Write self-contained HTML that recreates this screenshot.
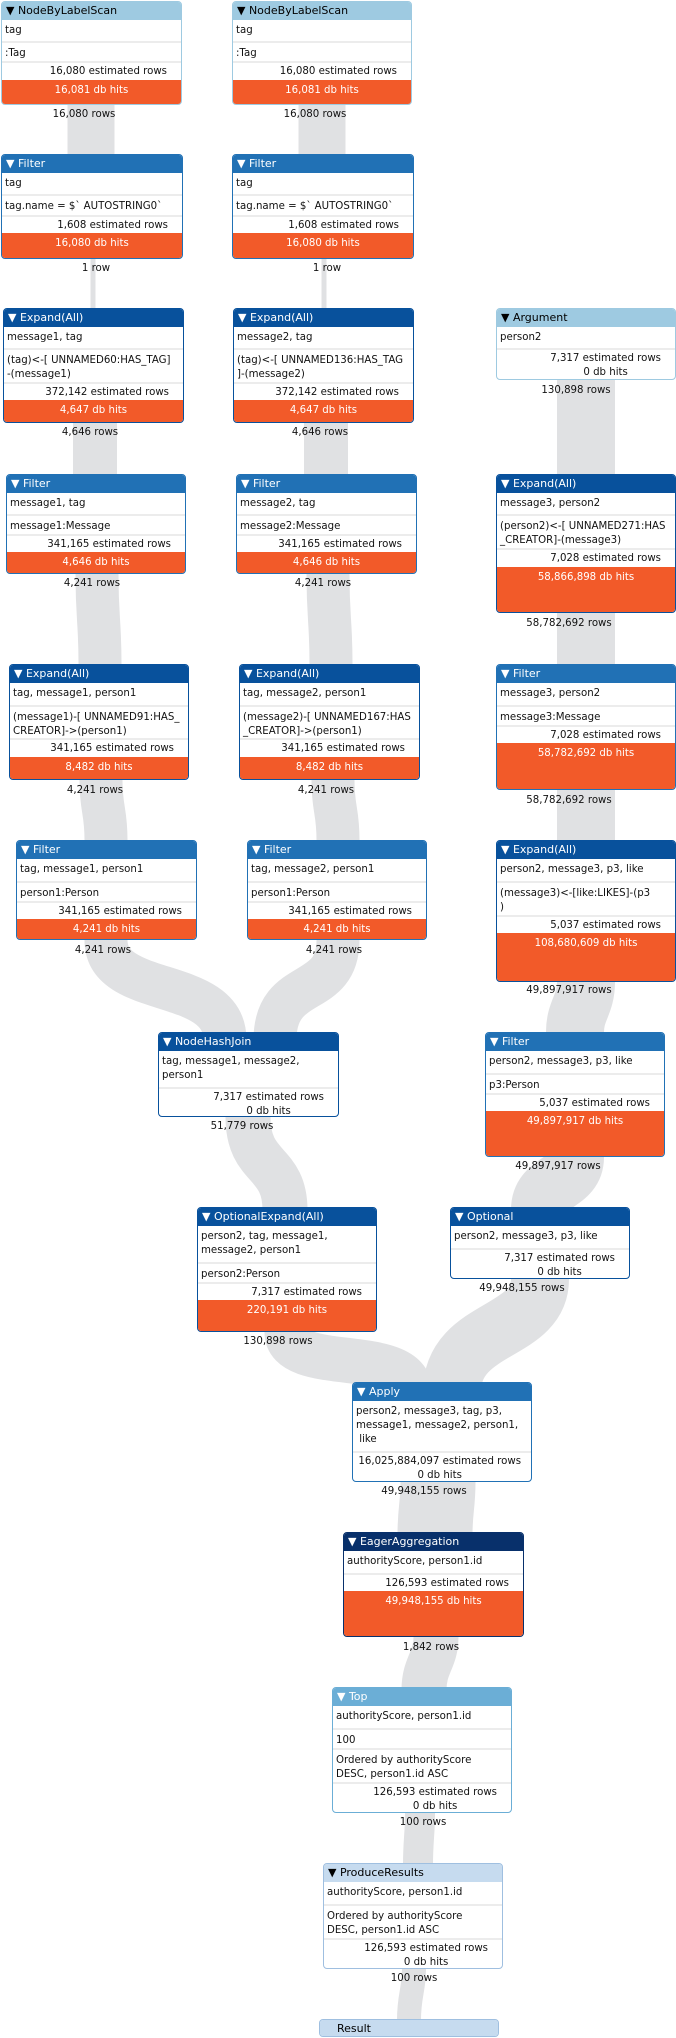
<!DOCTYPE html>
<html><head><meta charset="utf-8">
<style>
html,body{margin:0;padding:0;background:#fff}
body{width:676px;height:2038px;position:relative;overflow:hidden;font-family:"DejaVu Sans","Liberation Sans",sans-serif;color:#111}
.b{position:absolute;border:1px solid #2171b5;border-radius:4px;background:#fff;overflow:hidden;font-size:10.2px;box-sizing:border-box;width:180px}
.h{height:18px;line-height:18px;font-size:11px;padding-left:4px;color:#fff;background:#2171b5;white-space:nowrap}
.r{border-top:2px solid #ececec;padding:4px 3px 0;line-height:14px;box-sizing:border-box;white-space:nowrap;overflow:hidden}
.e{text-align:right;padding-right:14px;padding-top:2px}
.o{background:#f25a29;color:#fff;text-align:center;border-top:none;padding-top:4px}
.L{border-color:#9ecae1}.L .h{background:#9ecae1;color:#000}
.F{border-color:#2171b5}.F .h{background:#2171b5}
.X{border-color:#08519c}.X .h{background:#08519c}
.D{border-color:#08306b}.D .h{background:#08306b}
.T{border-color:#6baed6}.T .h{background:#6baed6}
.P{border-color:#9fbfe0}.P .h{background:#c6dbef;color:#000}
.lab{position:absolute;width:140px;text-align:center;font-size:10.2px;line-height:12px}
.c{display:inline-block;text-align:center}
svg{position:absolute;left:0;top:0}
</style></head><body>
<svg width="676" height="2038" fill="none" stroke="#e0e1e3">
<path d="M91 105V154" stroke-width="47"/>
<path d="M322 105V154" stroke-width="47"/>
<path d="M93 259V308" stroke-width="5"/>
<path d="M324 259V308" stroke-width="5"/>
<path d="M95 423V474" stroke-width="44"/>
<path d="M326 423V474" stroke-width="44"/>
<path d="M97 574C97 620 100 620 100 664" stroke-width="43"/>
<path d="M328 574C328 620 331 620 331 664" stroke-width="43"/>
<path d="M101 780C101 810 106 810 106 840" stroke-width="43"/>
<path d="M333 780C333 810 338 810 338 840" stroke-width="43"/>
<path d="M106 940C106 1000 225 975 225 1040" stroke-width="43"/>
<path d="M338 940C338 1000 275 975 275 1040" stroke-width="43"/>
<path d="M586 380V474" stroke-width="58"/>
<path d="M586 613V664" stroke-width="58"/>
<path d="M586 790V840" stroke-width="58"/>
<path d="M586 982C586 1005 575 1010 575 1032" stroke-width="58"/>
<path d="M575 1157C575 1185 540 1180 540 1210" stroke-width="58"/>
<path d="M248 1117C248 1170 285 1160 285 1210" stroke-width="45"/>
<path d="M287 1332C287 1375 410 1345 410 1392" stroke-width="45"/>
<path d="M540 1279C540 1335 452 1325 452 1392" stroke-width="58"/>
<path d="M438 1482C438 1505 435 1510 435 1535" stroke-width="75"/>
<path d="M436 1637C436 1660 424 1665 424 1690" stroke-width="45"/>
<path d="M420 1813C420 1835 418 1840 418 1865" stroke-width="30"/>
<path d="M414 1969C414 1990 409 1995 409 2020" stroke-width="24"/>
</svg>

<div class="b L" style="left:1px;top:1px;width:181px;height:104px"><div class="h">▼ NodeByLabelScan</div><div class="r" style="height:21px;border-top:none">tag</div><div class="r" style="height:20px">:Tag</div><div class="r e" style="height:19px">16,080 estimated rows</div><div class="r o" style="height:26px">16,081 db hits</div></div>
<div class="b L" style="left:232px;top:1px;width:180px;height:104px"><div class="h">▼ NodeByLabelScan</div><div class="r" style="height:21px;border-top:none">tag</div><div class="r" style="height:20px">:Tag</div><div class="r e" style="height:19px">16,080 estimated rows</div><div class="r o" style="height:26px">16,081 db hits</div></div>

<div class="b F" style="left:1px;top:154px;width:182px;height:105px"><div class="h">▼ Filter</div><div class="r" style="height:21px;border-top:none">tag</div><div class="r" style="height:21px">tag.name = $` AUTOSTRING0`</div><div class="r e" style="height:18px">1,608 estimated rows</div><div class="r o" style="height:27px">16,080 db hits</div></div>
<div class="b F" style="left:232px;top:154px;width:182px;height:105px"><div class="h">▼ Filter</div><div class="r" style="height:21px;border-top:none">tag</div><div class="r" style="height:21px">tag.name = $` AUTOSTRING0`</div><div class="r e" style="height:18px">1,608 estimated rows</div><div class="r o" style="height:27px">16,080 db hits</div></div>

<div class="b X" style="left:3px;top:308px;width:181px;height:115px"><div class="h">▼ Expand(All)</div><div class="r" style="height:21px;border-top:none">message1, tag</div><div class="r" style="height:34px">(tag)&lt;-[ UNNAMED60:HAS_TAG]<br>-(message1)</div><div class="r e" style="height:18px">372,142 estimated rows</div><div class="r o" style="height:24px">4,647 db hits</div></div>
<div class="b X" style="left:233px;top:308px;width:181px;height:115px"><div class="h">▼ Expand(All)</div><div class="r" style="height:21px;border-top:none">message2, tag</div><div class="r" style="height:34px">(tag)&lt;-[ UNNAMED136:HAS_TAG<br>]-(message2)</div><div class="r e" style="height:18px">372,142 estimated rows</div><div class="r o" style="height:24px">4,647 db hits</div></div>
<div class="b L" style="left:496px;top:308px;width:180px;height:72px"><div class="h">▼ Argument</div><div class="r" style="height:21px;border-top:none">person2</div><div class="r e" style="height:33px"><span class="c">7,317 estimated rows<br>0 db hits</span></div></div>

<div class="b F" style="left:6px;top:474px;width:180px;height:100px"><div class="h">▼ Filter</div><div class="r" style="height:21px;border-top:none">message1, tag</div><div class="r" style="height:20px">message1:Message</div><div class="r e" style="height:18px">341,165 estimated rows</div><div class="r o" style="height:23px">4,646 db hits</div></div>
<div class="b F" style="left:236px;top:474px;width:181px;height:100px"><div class="h">▼ Filter</div><div class="r" style="height:21px;border-top:none">message2, tag</div><div class="r" style="height:20px">message2:Message</div><div class="r e" style="height:18px">341,165 estimated rows</div><div class="r o" style="height:23px">4,646 db hits</div></div>
<div class="b X" style="left:496px;top:474px;width:180px;height:139px"><div class="h">▼ Expand(All)</div><div class="r" style="height:21px;border-top:none">message3, person2</div><div class="r" style="height:34px">(person2)&lt;-[ UNNAMED271:HAS<br>_CREATOR]-(message3)</div><div class="r e" style="height:19px">7,028 estimated rows</div><div class="r o" style="height:47px">58,866,898 db hits</div></div>

<div class="b X" style="left:9px;top:664px;width:180px;height:116px"><div class="h">▼ Expand(All)</div><div class="r" style="height:22px;border-top:none">tag, message1, person1</div><div class="r" style="height:33px">(message1)-[ UNNAMED91:HAS_<br>CREATOR]-&gt;(person1)</div><div class="r e" style="height:19px">341,165 estimated rows</div><div class="r o" style="height:24px">8,482 db hits</div></div>
<div class="b X" style="left:239px;top:664px;width:181px;height:116px"><div class="h">▼ Expand(All)</div><div class="r" style="height:22px;border-top:none">tag, message2, person1</div><div class="r" style="height:33px">(message2)-[ UNNAMED167:HAS<br>_CREATOR]-&gt;(person1)</div><div class="r e" style="height:19px">341,165 estimated rows</div><div class="r o" style="height:24px">8,482 db hits</div></div>
<div class="b F" style="left:496px;top:664px;width:180px;height:126px"><div class="h">▼ Filter</div><div class="r" style="height:22px;border-top:none">message3, person2</div><div class="r" style="height:20px">message3:Message</div><div class="r e" style="height:18px">7,028 estimated rows</div><div class="r o" style="height:48px">58,782,692 db hits</div></div>

<div class="b F" style="left:16px;top:840px;width:181px;height:100px"><div class="h">▼ Filter</div><div class="r" style="height:22px;border-top:none">tag, message1, person1</div><div class="r" style="height:20px">person1:Person</div><div class="r e" style="height:18px">341,165 estimated rows</div><div class="r o" style="height:22px">4,241 db hits</div></div>
<div class="b F" style="left:247px;top:840px;width:180px;height:100px"><div class="h">▼ Filter</div><div class="r" style="height:22px;border-top:none">tag, message2, person1</div><div class="r" style="height:20px">person1:Person</div><div class="r e" style="height:18px">341,165 estimated rows</div><div class="r o" style="height:22px">4,241 db hits</div></div>
<div class="b X" style="left:496px;top:840px;width:180px;height:142px"><div class="h">▼ Expand(All)</div><div class="r" style="height:22px;border-top:none">person2, message3, p3, like</div><div class="r" style="height:34px">(message3)&lt;-[like:LIKES]-(p3<br>)</div><div class="r e" style="height:18px">5,037 estimated rows</div><div class="r o" style="height:50px">108,680,609 db hits</div></div>

<div class="b X" style="left:158px;top:1032px;width:181px;height:85px"><div class="h">▼ NodeHashJoin</div><div class="r" style="height:36px;border-top:none">tag, message1, message2,<br>person1</div><div class="r e" style="height:31px"><span class="c">7,317 estimated rows<br>0 db hits</span></div></div>
<div class="b F" style="left:485px;top:1032px;width:180px;height:125px"><div class="h">▼ Filter</div><div class="r" style="height:22px;border-top:none">person2, message3, p3, like</div><div class="r" style="height:20px">p3:Person</div><div class="r e" style="height:18px">5,037 estimated rows</div><div class="r o" style="height:47px">49,897,917 db hits</div></div>

<div class="b X" style="left:197px;top:1207px;width:180px;height:125px"><div class="h">▼ OptionalExpand(All)</div><div class="r" style="height:36px;border-top:none">person2, tag, message1,<br>message2, person1</div><div class="r" style="height:20px">person2:Person</div><div class="r e" style="height:18px">7,317 estimated rows</div><div class="r o" style="height:33px">220,191 db hits</div></div>
<div class="b X" style="left:450px;top:1207px;width:180px;height:72px"><div class="h">▼ Optional</div><div class="r" style="height:22px;border-top:none">person2, message3, p3, like</div><div class="r e" style="height:32px"><span class="c">7,317 estimated rows<br>0 db hits</span></div></div>

<div class="b F" style="left:352px;top:1382px;width:180px;height:100px"><div class="h">▼ Apply</div><div class="r" style="height:50px;border-top:none">person2, message3, tag, p3,<br>message1, message2, person1,<br>&nbsp;like</div><div class="r e" style="height:32px;padding-right:10px"><span class="c">16,025,884,097 estimated rows<br>0 db hits</span></div></div>

<div class="b D" style="left:343px;top:1532px;width:181px;height:105px"><div class="h">▼ EagerAggregation</div><div class="r" style="height:22px;border-top:none">authorityScore, person1.id</div><div class="r e" style="height:18px">126,593 estimated rows</div><div class="r o" style="height:47px">49,948,155 db hits</div></div>

<div class="b T" style="left:332px;top:1687px;width:180px;height:126px"><div class="h">▼ Top</div><div class="r" style="height:22px;border-top:none">authorityScore, person1.id</div><div class="r" style="height:20px">100</div><div class="r" style="height:34px">Ordered by authorityScore<br>DESC, person1.id ASC</div><div class="r e" style="height:32px"><span class="c">126,593 estimated rows<br>0 db hits</span></div></div>

<div class="b P" style="left:323px;top:1863px;width:180px;height:106px"><div class="h">▼ ProduceResults</div><div class="r" style="height:22px;border-top:none">authorityScore, person1.id</div><div class="r" style="height:34px">Ordered by authorityScore<br>DESC, person1.id ASC</div><div class="r e" style="height:32px"><span class="c">126,593 estimated rows<br>0 db hits</span></div></div>

<div class="b P" style="left:319px;top:2019px;width:180px;height:18px;background:#c6dbef"><div class="h" style="padding-left:17px">Result</div></div>

<div class="lab" style="left:14px;top:109px">16,080 rows</div>
<div class="lab" style="left:245px;top:109px">16,080 rows</div>
<div class="lab" style="left:26px;top:263px">1 row</div>
<div class="lab" style="left:257px;top:263px">1 row</div>
<div class="lab" style="left:20px;top:427px">4,646 rows</div>
<div class="lab" style="left:250px;top:427px">4,646 rows</div>
<div class="lab" style="left:506px;top:385px">130,898 rows</div>
<div class="lab" style="left:22px;top:578px">4,241 rows</div>
<div class="lab" style="left:253px;top:578px">4,241 rows</div>
<div class="lab" style="left:499px;top:618px">58,782,692 rows</div>
<div class="lab" style="left:25px;top:785px">4,241 rows</div>
<div class="lab" style="left:256px;top:785px">4,241 rows</div>
<div class="lab" style="left:499px;top:795px">58,782,692 rows</div>
<div class="lab" style="left:33px;top:945px">4,241 rows</div>
<div class="lab" style="left:264px;top:945px">4,241 rows</div>
<div class="lab" style="left:499px;top:985px">49,897,917 rows</div>
<div class="lab" style="left:172px;top:1121px">51,779 rows</div>
<div class="lab" style="left:488px;top:1161px">49,897,917 rows</div>
<div class="lab" style="left:208px;top:1336px">130,898 rows</div>
<div class="lab" style="left:452px;top:1283px">49,948,155 rows</div>
<div class="lab" style="left:354px;top:1486px">49,948,155 rows</div>
<div class="lab" style="left:361px;top:1642px">1,842 rows</div>
<div class="lab" style="left:353px;top:1817px">100 rows</div>
<div class="lab" style="left:344px;top:1973px">100 rows</div>
</body></html>
